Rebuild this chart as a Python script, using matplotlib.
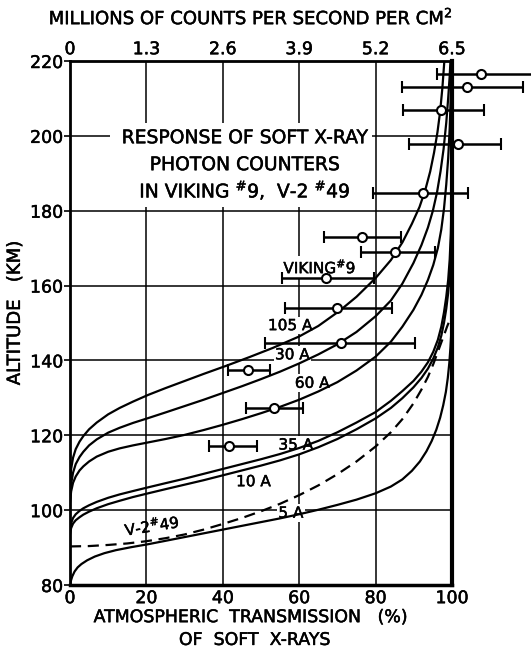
import matplotlib
matplotlib.use("Agg")
import matplotlib.pyplot as plt
import matplotlib.patheffects as pe
from matplotlib.patches import Rectangle
import numpy as np

plt.rcParams["font.family"] = "DejaVu Sans"

# transmission (%) vs altitude (km)
T_5A = [0, 0.2, 0.6, 1.2, 2, 3, 4.5, 6.5, 9, 12, 16, 20.5, 25, 30, 35, 40, 45, 50, 55, 60,
        65, 70, 75, 80, 84, 87, 89.5, 91.6, 93.3, 94.7, 95.9, 96.9, 97.7, 98.4, 98.9, 99.3,
        99.6, 99.85, 100]
H_5A = [79.8, 81, 82.3, 83.6, 84.7, 85.6, 86.6, 87.6, 88.5, 89.3, 90.1, 90.9, 91.8, 92.8,
        93.8, 94.8, 95.8, 96.8, 97.8, 98.9, 100.1, 101.4, 102.8, 104.5, 106.3, 108.2, 110.5,
        113, 115.7, 118.5, 121.5, 124.7, 128, 131.6, 135.3, 139.3, 143.5, 148, 152]

T_V2 = [0, 5, 10, 15, 20, 25, 30, 35, 40, 45, 50, 55, 60, 65, 70, 75, 80, 84, 87, 89.9,
        92, 93.7, 95.1, 96.3, 97.2, 98, 98.7, 99.3]
H_V2 = [90.3, 90.4, 90.7, 91.1, 91.7, 92.5, 93.5, 94.8, 96.3, 97.9, 99.7, 101.7, 104, 106.6,
        109.6, 113, 117, 120.8, 124.3, 128.5, 132.2, 135.6, 139, 142.3, 144.8, 147, 149, 150.5]

T_10A = [0, 0.3, 0.8, 1.5, 2.5, 3.5, 5, 7, 10, 13, 16.5, 20.5, 25, 30, 35, 40, 45, 50, 55,
         60, 65, 70, 75, 80, 84, 87, 89.9, 92, 93.7, 95.1, 96.3, 97.2, 97.9, 98.5, 99, 99.4,
         99.7, 99.9, 100]
H_10A = [93.5, 95.2, 96.4, 97.3, 98.1, 98.8, 99.6, 100.5, 101.6, 102.5, 103.5, 104.5, 105.6,
         106.8, 108, 109.3, 110.6, 111.9, 113.3, 114.9, 116.8, 119, 121.6, 124.5, 127.3,
         129.9, 132.8, 135.3, 137.8, 140.5, 143.5, 146.6, 150, 153.8, 158, 163, 169.5, 178, 195]

T_35A = [0, 0.3, 0.8, 1.5, 2.5, 3.5, 5, 7, 10, 13, 16.5, 20.5, 25, 30, 35, 40, 45, 50, 55,
         60, 65, 70, 75, 80, 84, 87, 89.9, 92, 93.7, 95.1, 96.3, 97.2, 97.9, 98.5, 99, 99.4,
         99.7, 99.9, 100]
H_35A = [94.5, 96.5, 97.9, 98.9, 99.8, 100.5, 101.3, 102.2, 103.3, 104.2, 105.1, 106.1, 107.2,
         108.4, 109.7, 111, 112.3, 113.6, 115, 116.6, 118.5, 120.8, 123.4, 126.2, 129.2, 131.8,
         134.5, 137, 139.5, 142.3, 145.5, 149, 152.8, 157, 161.5, 167, 174, 183, 200]

T_60A = [0, 0.3, 0.8, 1.5, 2.5, 3.5, 5, 7, 10, 13, 16.5, 20.5, 25, 30, 35, 40, 45, 50, 55,
         60, 65, 70, 75, 80, 84, 87, 89.9, 92, 93.7, 95.1, 96.3, 97.2, 97.9, 98.5, 99, 99.4,
         99.7, 99.85]
H_60A = [102, 105, 107.3, 109, 110.6, 111.7, 113, 114.3, 115.6, 116.5, 117.3, 118.1, 119, 120.1,
         121.4, 122.8, 124.3, 125.9, 127.6, 129.5, 131.7, 134.2, 137.3, 141, 145, 149, 153.5,
         157.5, 161.5, 165.5, 170, 175, 180.5, 187, 194, 202, 211, 220]

T_30A = [0, 0.3, 0.8, 1.5, 2.5, 3.5, 5, 7, 10, 13, 16.5, 20.5, 25, 30, 35, 40, 45, 50, 55,
         60, 65, 70, 75, 80, 84, 87, 89.9, 92, 93.7, 95, 96.1, 97, 97.8, 98.5, 99, 99.4, 99.6]
H_30A = [103, 107, 110, 112.3, 114.2, 115.6, 117.3, 118.9, 120.7, 122, 123.3, 124.6, 126.1,
         127.8, 129.5, 131.3, 133.1, 135, 137, 139.2, 141.6, 144.3, 147.6, 151.8, 156, 160.5,
         166, 170.8, 175.5, 180, 185, 190.5, 196.5, 203.5, 210, 216, 220]

T_105A = [0, 0.3, 0.8, 1.5, 2.5, 3.5, 5, 7, 10, 13, 16.5, 20.5, 25, 30, 35, 41, 47, 53, 60,
          65, 70.5, 75, 80, 84, 87, 89.5, 91.5, 93, 94.3, 95.3, 96.2, 96.9, 97.5, 98]
H_105A = [107, 111, 114, 116.3, 118.3, 119.8, 121.6, 123.4, 125.6, 127.3, 129, 130.8, 132.6,
          134.5, 136.4, 138.6, 140.9, 143.3, 146.4, 149.2, 153.2, 157, 162, 166.8, 171.5,
          176.5, 181, 185.5, 190.5, 195.5, 201, 206.5, 213, 220]

# Viking #9 measurements: centre, altitude, bar low, bar high
PT_X = [107.5, 104, 97.2, 101.5, 92.3, 76.5, 85.2, 67, 70, 71, 46.5, 53.4, 41.7]
PT_H = [216.6, 213.1, 207, 197.9, 184.7, 173, 168.9, 162, 153.9, 144.6, 137.5, 127.4, 117.2]
PT_LO = [96, 87, 87.2, 88.8, 79.4, 66.4, 76.1, 55.6, 56.4, 51, 41.3, 46.1, 36.4]
PT_HI = [130, 118.5, 108.4, 112.7, 104.2, 86.6, 95.5, 79.6, 84.3, 90.4, 52.3, 61, 48.9]

X_TICKS = [0, 20, 40, 60, 80, 100]
Y_TICKS = [80, 100, 120, 140, 160, 180, 200, 220]
TOP_TICKS = ["0", "1.3", "2.6", "3.9", "5.2", "6.5"]

INK = [pe.withStroke(linewidth=0.35, foreground="black")]

fig = plt.figure(figsize=(5.31, 6.51), dpi=100)
ax = fig.add_axes([0.1318, 0.1014, 0.7194, 0.8049])
ax.set_xlim(0, 100)
ax.set_ylim(80, 220)

ax.set_xticks(X_TICKS)
ax.set_yticks(Y_TICKS)
ax.grid(color="black", lw=1.1, zorder=1)
ax.set_axisbelow(True)
ax.tick_params(axis="x", length=0, labelsize=12.5, pad=3)
ax.tick_params(axis="y", length=4, width=1.2, labelsize=12.5, pad=1)
for side, w in [("left", 2), ("bottom", 2.5), ("top", 2), ("right", 3)]:
    ax.spines[side].set_linewidth(w)

top = ax.secondary_xaxis("top", functions=(lambda x: x * 0.065, lambda v: v / 0.065))
top.set_xticks([float(t) for t in TOP_TICKS])
top.set_xticklabels(TOP_TICKS)
top.tick_params(length=0, labelsize=12.5, pad=2)
for lab in ax.get_xticklabels() + ax.get_yticklabels() + top.get_xticklabels():
    lab.set_path_effects(INK)

# blank panel behind the caption
ax.add_patch(Rectangle((10.5, 181), 68.5, 22.5, facecolor="white", edgecolor="none", zorder=2))

lw = 1.6
for t, h in [(T_5A, H_5A), (T_10A, H_10A), (T_35A, H_35A),
             (T_60A, H_60A), (T_30A, H_30A), (T_105A, H_105A)]:
    ax.plot(t, h, color="black", lw=lw, zorder=4, solid_capstyle="butt")
ax.plot(T_V2, H_V2, color="black", lw=lw, ls=(0, (5, 3)), zorder=4)

px = np.array(PT_X)
eb = ax.errorbar(px, PT_H, xerr=[px - np.array(PT_LO), np.array(PT_HI) - px],
                 fmt="o", mfc="white", mec="black", ms=6.5, mew=1.5,
                 ecolor="black", elinewidth=1.8, capsize=4, capthick=1.8, zorder=6)
for art in [eb.lines[0], *eb.lines[1], *eb.lines[2]]:
    art.set_clip_on(False)

box = dict(facecolor="white", edgecolor="none", pad=1.0)
labels = [
    (57.6, 149.3, "105 A"), (58.2, 141.5, "30 A"), (63.4, 133.9, "60 A"),
    (59.1, 117.4, "35 A"), (48.0, 107.6, "10 A"), (57.8, 99.2, "5 A"),
]
for x, y, s in labels:
    ax.text(x, y, s, ha="center", va="center", fontsize=11, bbox=box, zorder=3,
            path_effects=INK)
ax.text(65.4, 165.0, r"VIKING$^{\#}$9", ha="center", va="center", fontsize=11,
        bbox=box, zorder=3, path_effects=INK)
ax.text(21.5, 96.0, r"V-2$^{\#}$49", ha="center", va="center", fontsize=11,
        rotation=9, zorder=3, path_effects=INK)

caption = ["RESPONSE OF SOFT X-RAY", "PHOTON COUNTERS", r"IN VIKING $^{\#}$9,  V-2 $^{\#}$49"]
for s, y in zip(caption, [199.5, 192.3, 185.6]):
    ax.text(45.8, y, s, ha="center", va="center", fontsize=13.5, zorder=3, path_effects=INK)

fig.text(0.471, 0.972, r"MILLIONS OF COUNTS PER SECOND PER CM$^{2}$",
         ha="center", va="center", fontsize=13, path_effects=INK)
fig.text(0.028, 0.519, "ALTITUDE   (KM)", rotation=90, ha="center", va="center",
         fontsize=13, path_effects=INK)
fig.text(0.473, 0.052, "ATMOSPHERIC  TRANSMISSION   (%)", ha="center",
         va="center", fontsize=12.5, path_effects=INK)
fig.text(0.48, 0.017, "OF  SOFT  X-RAYS", ha="center", va="center", fontsize=12.5,
         path_effects=INK)

fig.savefig("out.png", dpi=100)
